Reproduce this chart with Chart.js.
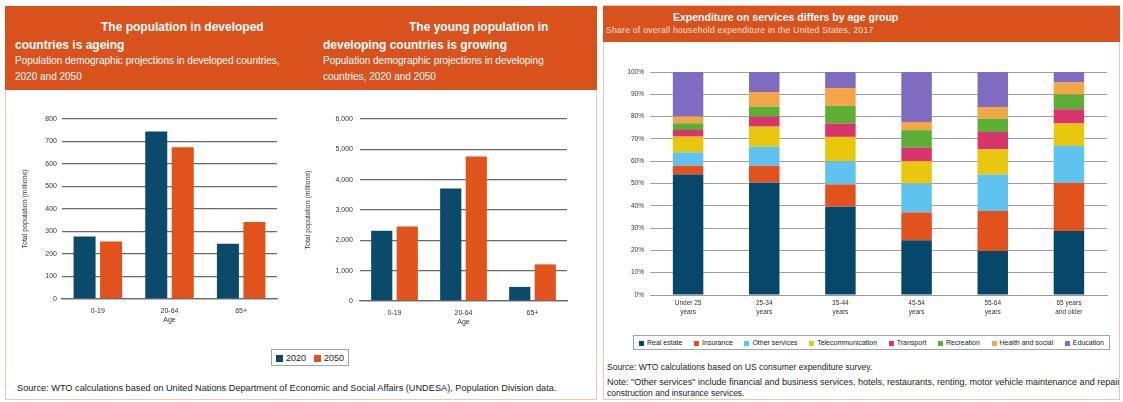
<!DOCTYPE html>
<html>
<head>
<meta charset="utf-8">
<script src="https://cdn.jsdelivr.net/npm/chart.js@4.4.1/dist/chart.umd.min.js"></script>
<style>
    body { margin: 0; width: 1123px; height: 402px; background: #fff; position: relative; overflow: hidden;
           font-family: "Liberation Sans", Arial, sans-serif; }
    .panel { position: absolute; border: 1px solid #eec5b7; box-sizing: border-box; }
    .hdr { position: absolute; background: #d9521d; }
    .t { position: absolute; color: #fff; white-space: nowrap; line-height: 1; }
    .b { font-weight: bold; }
    .note { position: absolute; color: #222; white-space: nowrap; line-height: 1; }
    .cv { position: absolute; }
    .legend { position: absolute; border: 1px solid #9aa7b0; display: flex; align-items: center;
              box-sizing: border-box; color: #222; white-space: nowrap; }
    .legend span.sw { display: inline-block; vertical-align: -1px; margin-right: 3px; }
</style>
</head>
<body>

<div class="panel" style="left:5px;top:6px;width:592px;height:394px"></div>
<div class="hdr" style="left:5px;top:6px;width:592px;height:84px"></div>
<div class="t b" style="left:101px;top:21px;font-size:12px">The population in developed</div>
<div class="t b" style="left:15px;top:39px;font-size:12px">countries is ageing</div>
<div class="t" style="left:15px;top:56px;font-size:10px">Population demographic projections in developed countries,</div>
<div class="t" style="left:15px;top:72px;font-size:10px">2020 and 2050</div>
<div class="t b" style="left:409px;top:21px;font-size:12px">The young population in</div>
<div class="t b" style="left:323px;top:39px;font-size:12px">developing countries is growing</div>
<div class="t" style="left:323px;top:56px;font-size:10px">Population demographic projections in developing</div>
<div class="t" style="left:323px;top:72px;font-size:10px">countries, 2020 and 2050</div>

<div class="panel" style="left:603px;top:5px;width:517px;height:395px"></div>
<div class="hdr" style="left:603px;top:6px;width:517px;height:36px"></div>
<div class="t b" style="left:673px;top:12px;font-size:10.5px">Expenditure on services differs by age group</div>
<div class="t" style="left:606px;top:26px;font-size:8.5px;letter-spacing:0.3px;color:#fde3d6">Share of overall household expenditure in the United States, 2017</div>

<canvas id="dev" class="cv" style="left:10px;top:100px" width="285" height="230"></canvas>
<canvas id="devg" class="cv" style="left:300px;top:100px" width="285" height="232"></canvas>
<canvas id="spend" class="cv" style="left:605px;top:55px" width="515" height="275"></canvas>

<div id="legYears" class="legend" style="left:271px;top:349px;width:78px;height:17px;font-size:9px;justify-content:space-around"></div>
<div id="legSpend" class="legend" style="left:633px;top:335px;width:477px;height:15px;font-size:7px;justify-content:space-between;padding:0 5px"></div>

<div class="note" style="left:17px;top:384px;font-size:9.2px">Source: WTO calculations based on United Nations Department of Economic and Social Affairs (UNDESA), Population Division data.</div>
<div style="position:absolute;left:604px;top:355px;width:515px;height:44px;overflow:hidden">
    <div class="note" style="left:3px;top:8px;font-size:8.5px">Source: WTO calculations based on US consumer expenditure survey.</div>
    <div class="note" style="left:3px;top:23px;font-size:9px">Note: "Other services" include financial and business services, hotels, restaurants, renting, motor vehicle maintenance and repair,</div>
    <div class="note" style="left:3px;top:34px;font-size:8.5px">construction and insurance services.</div>
</div>

<script>
const ageGroups = ["0-19", "20-64", "65+"]
const yearLabels = ["2020", "2050"]
const developed2020 = [278, 745, 246]
const developed2050 = [256, 674, 342]
const developing2020 = [2315, 3710, 465]
const developing2050 = [2460, 4760, 1207]

const spendGroups = [
    ["Under 25", "years"], ["25-34", "years"], ["35-44", "years"],
    ["45-54", "years"], ["55-64", "years"], ["65 years", "and older"],
]
const serviceNames = ["Real estate", "Insurance", "Other services", "Telecommunication",
    "Transport", "Recreation", "Health and social", "Education"]
const realEstate = [54, 50.5, 39.6, 24.6, 19.7, 28.7]
const insurance = [4, 7.5, 10, 12.4, 18, 21.6]
const otherServices = [6, 8.5, 10.4, 13, 16.3, 16.6]
const telecom = [7, 9, 10.9, 10, 11.3, 10]
const transport = [3, 4.5, 6, 6, 7.8, 6.4]
const recreation = [3, 4.5, 7.9, 7.9, 6, 6.6]
const healthSocial = [3, 6.5, 8, 3.7, 5.2, 5.4]
const education = [20, 9, 7.2, 22.4, 15.7, 4.7]

const yearColors = ["#0c4a6c", "#e1521d"]
const serviceColors = ["#07476a", "#e1521d", "#5ec3ee", "#e9c70c", "#d8356e", "#5cae34", "#f4a545", "#7f6cc0"]

Chart.defaults.font.family = "'Liberation Sans', Arial, sans-serif"
Chart.defaults.color = "#333"
Chart.defaults.animation = false

const popChart = (id, a, b, max, step, padLeft, axisWidth, tickPad) => {
    return new Chart(document.getElementById(id), {
        type: "bar",
        data: {
            labels: ageGroups,
            datasets: [
                { label: yearLabels[0], data: a, backgroundColor: yearColors[0] },
                { label: yearLabels[1], data: b, backgroundColor: yearColors[1] },
            ],
        },
        options: {
            responsive: false,
            layout: { padding: { left: padLeft, right: 18, top: 19, bottom: 6 } },
            categoryPercentage: 0.74,
            barPercentage: 0.83,
            plugins: { legend: { display: false }, tooltip: { enabled: false } },
            scales: {
                x: {
                    grid: { display: false, drawTicks: false },
                    border: { color: "#6a6a6a", width: 1.3 },
                    ticks: { font: { size: 7 }, padding: 8 },
                    title: { display: true, text: "Age", font: { size: 7 }, padding: 0 },
                    afterFit: (s) => { s.height = 25 },
                },
                y: {
                    min: 0,
                    max,
                    ticks: {
                        stepSize: step,
                        font: { size: 7 },
                        padding: tickPad,
                        callback: (v) => v.toLocaleString("en-US"),
                    },
                    grid: { color: "#6a6a6a", lineWidth: 1.3, drawTicks: false },
                    border: { display: false },
                    title: { display: true, text: "Total population (millions)", font: { size: 7 }, padding: 4 },
                    afterFit: (s) => { s.width = axisWidth },
                },
            },
        },
    })
}

popChart("dev", developed2020, developed2050, 800, 100, 7, 45, 5)
popChart("devg", developing2020, developing2050, 6000, 1000, 0, 60, 7)

const spendSeries = [realEstate, insurance, otherServices, telecom, transport, recreation, healthSocial, education]

new Chart(document.getElementById("spend"), {
    type: "bar",
    data: {
        labels: spendGroups,
        datasets: spendSeries.map((data, i) => ({
            label: serviceNames[i],
            data,
            backgroundColor: serviceColors[i],
        })),
    },
    options: {
        responsive: false,
        layout: { padding: { left: 0, right: 13, top: 17, bottom: 10 } },
        categoryPercentage: 1,
        barPercentage: 0.4,
        plugins: { legend: { display: false }, tooltip: { enabled: false } },
        scales: {
            x: {
                stacked: true,
                grid: { display: false, drawTicks: false },
                border: { color: "#9a9a9a" },
                ticks: { font: { size: 6.5, lineHeight: 1.5 }, padding: 3, maxRotation: 0 },
                afterFit: (s) => { s.height = 25 },
            },
            y: {
                stacked: true,
                min: 0,
                max: 100,
                ticks: { stepSize: 10, font: { size: 6.5 }, padding: 6, callback: (v) => v + "%" },
                grid: { color: "#a0a0a0", drawTicks: false },
                border: { display: false },
                afterFit: (s) => { s.width = 45 },
            },
        },
    },
})

const buildLegend = (id, names, colors, size) => {
    const el = document.getElementById(id)
    names.forEach((name, i) => {
        const item = document.createElement("span")
        item.innerHTML = '<span class="sw" style="width:' + size + 'px;height:' + size + 'px;background:' +
            colors[i] + '"></span>' + name
        el.appendChild(item)
    })
}

buildLegend("legYears", yearLabels, yearColors, 7)
buildLegend("legSpend", serviceNames, serviceColors, 5)
</script>
</body>
</html>
